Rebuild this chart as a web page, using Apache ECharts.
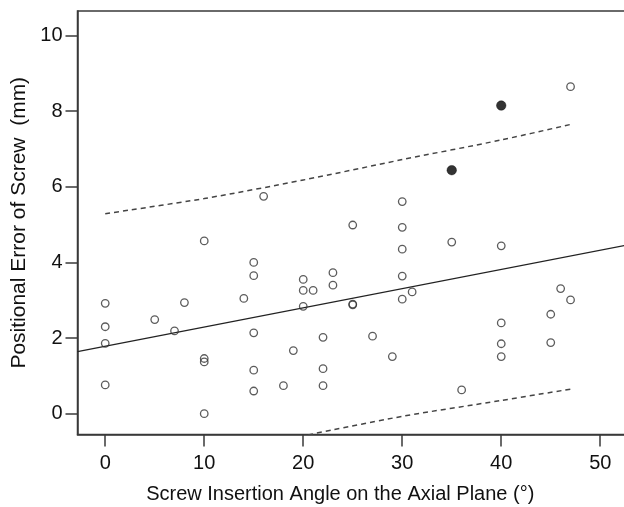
<!DOCTYPE html>
<html>
<head>
<meta charset="utf-8">
<script src="https://cdn.jsdelivr.net/npm/echarts@6/dist/echarts.min.js"></script>
<style>
html,body{margin:0;padding:0;background:#fff;}
#chart{width:624px;height:507px;}
</style>
</head>
<body>
<div id="chart"></div>
<script>
// Open circles (angle, error)
var angleOpen = [0,0,0,0, 5, 7, 8, 10,10,10,10, 14, 15,15,15,15,15, 16, 18, 19, 20,20,20, 21, 22,22,22, 23,23, 25,25,25, 27, 29, 30,30,30,30,30, 31, 35, 36, 40,40,40,40, 45,45, 46, 47,47];
var errorOpen = [2.92,2.30,1.86,0.76, 2.49, 2.19, 2.94, 4.57,1.46,1.37,0.00, 3.05, 4.00,3.65,2.14,1.15,0.60, 5.75, 0.74, 1.67, 3.55,3.26,2.84, 3.26, 2.02,1.19,0.74, 3.73,3.40, 4.99,2.90,2.88, 2.05, 1.51, 5.61,4.93,4.35,3.64,3.03, 3.22, 4.54, 0.63, 4.44,2.40,1.85,1.51, 2.63,1.88, 3.31, 8.65,3.01];
// Filled circles
var angleFilled = [35, 40];
var errorFilled = [6.44, 8.15];
// Fitted line
var fitX = [-2.8, 52.5];
var fitY = [1.64, 4.45];
// Upper prediction bound
var upperX = [0, 10, 20, 30, 40, 47];
var upperY = [5.29, 5.69, 6.18, 6.72, 7.24, 7.65];
// Lower prediction bound
var lowerX = [20.5, 30, 40, 47];
var lowerY = [-0.56, -0.07, 0.35, 0.65];
// Ticks
var xTicks = [0, 10, 20, 30, 40, 50];
var yTicks = [0, 2, 4, 6, 8, 10];

function zip(a, b) { return a.map(function (v, i) { return [v, b[i]]; }); }

var FONT = 'Liberation Sans, Arial, sans-serif';
var AXIS_COLOR = '#3a3a3a';

var chart = echarts.init(document.getElementById('chart'), null, {renderer: 'canvas'});
chart.setOption({
  animation: false,
  backgroundColor: '#fff',
  grid: {
    left: 77.5, right: -1, top: 11, bottom: 72.5,
    outerBoundsMode: 'none', containLabel: false,
    show: true, borderColor: AXIS_COLOR, borderWidth: 1.5, backgroundColor: 'transparent'
  },
  xAxis: {
    type: 'value', min: -2.8, max: 52.5,
    name: 'Screw Insertion Angle on the Axial Plane (°)',
    nameLocation: 'middle', nameGap: 50,
    nameTextStyle: {fontSize: 20, color: '#111', fontFamily: FONT, padding: [0, 22, 0, 0]},
    axisLine: {show: true, onZero: false, lineStyle: {color: AXIS_COLOR, width: 1.5}},
    axisTick: {show: true, inside: false, length: 12, customValues: xTicks, lineStyle: {color: AXIS_COLOR, width: 1.5}},
    axisLabel: {show: true, customValues: xTicks, fontSize: 20, color: '#111', fontFamily: FONT, margin: 19},
    splitLine: {show: false}
  },
  yAxis: {
    type: 'value', min: -0.55, max: 10.65,
    name: 'Positional Error of Screw  (mm)',
    nameLocation: 'middle', nameGap: 47,
    nameTextStyle: {fontSize: 21, color: '#111', fontFamily: FONT},
    axisLine: {show: true, onZero: false, lineStyle: {color: AXIS_COLOR, width: 1.5}},
    axisTick: {show: true, inside: false, length: 12, customValues: yTicks, lineStyle: {color: AXIS_COLOR, width: 1.5}},
    axisLabel: {show: true, customValues: yTicks, fontSize: 20, color: '#111', fontFamily: FONT, margin: 15},
    splitLine: {show: false}
  },
  series: [
    {
      type: 'line', data: zip(fitX, fitY), showSymbol: false, symbol: 'none',
      lineStyle: {color: '#222', width: 1.2}, z: 2, silent: true
    },
    {
      type: 'line', data: zip(upperX, upperY), showSymbol: false, symbol: 'none', smooth: 0.3,
      lineStyle: {color: '#444', width: 1.5, type: [5, 4]}, z: 2, silent: true
    },
    {
      type: 'line', data: zip(lowerX, lowerY), showSymbol: false, symbol: 'none', smooth: 0.3,
      lineStyle: {color: '#444', width: 1.5, type: [5, 4]}, z: 2, silent: true
    },
    {
      type: 'scatter', data: zip(angleOpen, errorOpen), symbol: 'circle', symbolSize: 7.5,
      itemStyle: {color: 'rgba(255,255,255,0)', borderColor: '#333', borderWidth: 1.3}, z: 3
    },
    {
      type: 'scatter', data: zip(angleFilled, errorFilled), symbol: 'circle', symbolSize: 9.5,
      itemStyle: {color: '#000', borderColor: '#000', borderWidth: 0.5}, z: 3
    }
  ]
});
</script>
</body>
</html>
